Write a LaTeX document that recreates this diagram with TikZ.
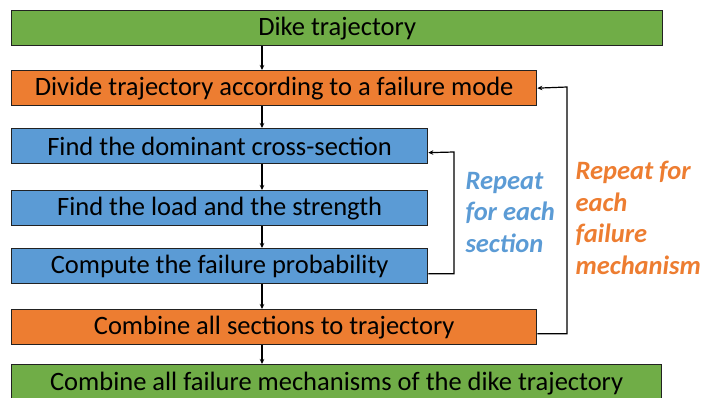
\documentclass[tikz,border=0pt]{standalone}
\usepackage{fontspec}
\setmainfont{Carlito}
\usetikzlibrary{arrows.meta}
\definecolor{boxgreen}{HTML}{70AD47}
\definecolor{boxorange}{HTML}{ED7D31}
\definecolor{boxblue}{HTML}{5B9BD5}
\definecolor{edge}{HTML}{222222}
\tikzset{
  stepbox/.style={draw=edge, line width=1.3pt, anchor=north west, inner sep=0pt,
    minimum height=35pt, font=\fontsize{26.5}{30}\selectfont, text=black},
  flow/.style={draw=black, line width=1.2pt, -{Stealth[length=5pt,width=4.5pt]}},
  loopnote/.style={anchor=west, align=left, font=\fontsize{26.5}{31.5}\selectfont\bfseries\itshape},
}
\begin{document}
\begin{tikzpicture}[x=1pt,y=-1pt]
  \useasboundingbox (0,0) rectangle (704,397);
  \clip (0,0) rectangle (704,397);

  \node[stepbox, fill=boxgreen,  minimum width=651pt] (b1) at (11,10)  {Dike trajectory};
  \node[stepbox, fill=boxorange, minimum width=525pt] (b2) at (11,70)  {Divide trajectory according to a failure mode};
  \node[stepbox, fill=boxblue,   minimum width=416pt] (b3) at (11,128) {Find the dominant cross-section};
  \node[stepbox, fill=boxblue,   minimum width=416pt] (b4) at (11,190) {Find the load and the strength};
  \node[stepbox, fill=boxblue,   minimum width=416pt] (b5) at (11,248) {Compute the failure probability};
  \node[stepbox, fill=boxorange, minimum width=525pt] (b6) at (11,309) {Combine all sections to trajectory};
  \node[stepbox, fill=boxgreen,  minimum width=650pt, minimum height=37pt] (b7) at (11,364) {Combine all failure mechanisms of the dike trajectory};

  % vertical spine of the flow
  \coordinate (spine) at (262,0);
  \draw[flow] (b1.south -| spine) -- (b2.north -| spine);
  \draw[flow] (b2.south -| spine) -- (b3.north -| spine);
  \draw[flow] (b3.south -| spine) -- (b4.north -| spine);
  \draw[flow] (b4.south -| spine) -- (b5.north -| spine);
  \draw[flow] (b5.south -| spine) -- (b6.north -| spine);
  \draw[flow] (b6.south -| spine) -- (b7.north -| spine);

  % feedback loops
  \coordinate (innerloop) at (454,0);
  \coordinate (outerloop) at (567,0);
  \draw[flow] ([yshift=-7.5pt]b5.east) -| (innerloop |- 152,152) -- ([yshift=-6.5pt]b3.east);
  \draw[flow] ([yshift=-6.5pt]b6.east) -| (outerloop |- 87,87) -- (b2.east);

  \node[loopnote, text=boxblue]   (n1) at (462,212) {Repeat\\for each\\section};
  \node[loopnote, text=boxorange] (n2) at (572,218) {Repeat for\\each\\failure\\mechanism};
\end{tikzpicture}
\end{document}
